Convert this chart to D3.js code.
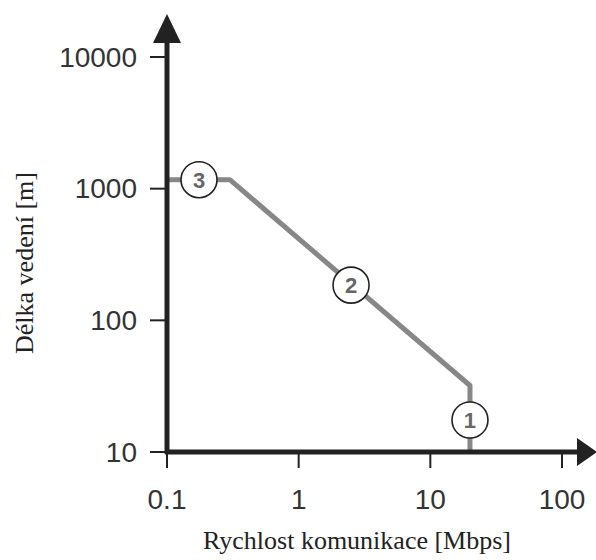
<!DOCTYPE html>
<html lang="cs">
<head>
    <meta charset="UTF-8">
    <title>Délka vedení vs rychlost</title>
    <script src="https://d3js.org/d3.v7.min.js"></script>
    <style>
        body { margin: 0; background: #fff; }
        svg { display: block; }
        .tick-label { font-family: "Liberation Sans", Arial, sans-serif; font-size: 28px; fill: #333; }
        .axis-title { font-family: "Liberation Serif", "Times New Roman", serif; font-size: 26px; fill: #222; }
        .marker-label { font-family: "Liberation Sans", Arial, sans-serif; font-size: 22px; font-weight: bold; fill: #666; }
    </style>
</head>
<body>
<script>
    // data
    const xTicks = [0.1, 1, 10, 100];
    const xTickLabels = ["0.1", "1", "10", "100"];
    const yTicks = [10, 100, 1000, 10000];
    const yTickLabels = ["10", "100", "1000", "10000"];
    // limit curve: speed [Mbps] vs max length [m]
    const curveSpeed = [0.1, 0.3, 20, 20];
    const curveLength = [1170, 1170, 32, 10];
    // numbered markers on the curve
    const markerIds = ["3", "2", "1"];
    const markerSpeed = [0.175, 2.5, 20];
    const markerLength = [1170, 185, 17.5];

    const width = 596, height = 560;
    const svg = d3.select("body").append("svg")
        .attr("width", width)
        .attr("height", height);

    const x = d3.scaleLog().domain([0.1, 100]).range([167, 562]);
    const y = d3.scaleLog().domain([10, 10000]).range([452, 57]);

    const axisColor = "#222";

    // curve
    const pts = curveSpeed.map((s, i) => [s, curveLength[i]]);
    const line = d3.line().x(d => x(d[0])).y(d => y(d[1]));
    svg.append("path")
        .attr("d", line(pts))
        .attr("fill", "none")
        .attr("stroke", "#878787")
        .attr("stroke-width", 5)
        .attr("stroke-linejoin", "round");

    // axes lines
    const x0 = x(0.1), y0 = y(10);
    svg.append("line")
        .attr("x1", x0).attr("y1", y0 + 2)
        .attr("x2", x0).attr("y2", 40)
        .attr("stroke", axisColor).attr("stroke-width", 5);
    svg.append("line")
        .attr("x1", x0 - 2).attr("y1", y0)
        .attr("x2", 580).attr("y2", y0)
        .attr("stroke", axisColor).attr("stroke-width", 5);

    // arrow heads
    svg.append("path")
        .attr("d", `M${x0},14 L${x0 + 14},43 L${x0 - 14},43 Z`)
        .attr("fill", axisColor);
    svg.append("path")
        .attr("d", `M597,${y0} L577,${y0 - 14} L577,${y0 + 14} Z`)
        .attr("fill", axisColor);

    // x ticks
    xTicks.forEach((t, i) => {
        svg.append("line")
            .attr("x1", x(t)).attr("x2", x(t))
            .attr("y1", y0).attr("y2", y0 + 16)
            .attr("stroke", axisColor).attr("stroke-width", 2);
        svg.append("text")
            .attr("class", "tick-label")
            .attr("x", x(t)).attr("y", 509)
            .attr("text-anchor", "middle")
            .text(xTickLabels[i]);
    });

    // y ticks
    yTicks.forEach((t, i) => {
        svg.append("line")
            .attr("x1", x0 - 17).attr("x2", x0)
            .attr("y1", y(t)).attr("y2", y(t))
            .attr("stroke", axisColor).attr("stroke-width", 2);
        svg.append("text")
            .attr("class", "tick-label")
            .attr("x", 137).attr("y", y(t))
            .attr("dy", "0.35em")
            .attr("text-anchor", "end")
            .text(yTickLabels[i]);
    });

    // markers
    const markers = svg.selectAll(".marker")
        .data(markerIds)
        .enter()
        .append("g")
        .attr("class", "marker")
        .attr("transform", (d, i) => `translate(${x(markerSpeed[i])},${y(markerLength[i])})`);
    markers.append("circle")
        .attr("r", 18)
        .attr("fill", "#fff")
        .attr("stroke", "#222")
        .attr("stroke-width", 1.6);
    markers.append("text")
        .attr("class", "marker-label")
        .attr("text-anchor", "middle")
        .attr("dy", "0.36em")
        .text(d => d);

    // axis titles
    svg.append("text")
        .attr("class", "axis-title")
        .attr("x", 357).attr("y", 549)
        .attr("text-anchor", "middle")
        .text("Rychlost komunikace [Mbps]");
    svg.append("text")
        .attr("class", "axis-title")
        .attr("transform", "translate(33,263) rotate(-90)")
        .attr("text-anchor", "middle")
        .text("Délka vedení [m]");
</script>
</body>
</html>
